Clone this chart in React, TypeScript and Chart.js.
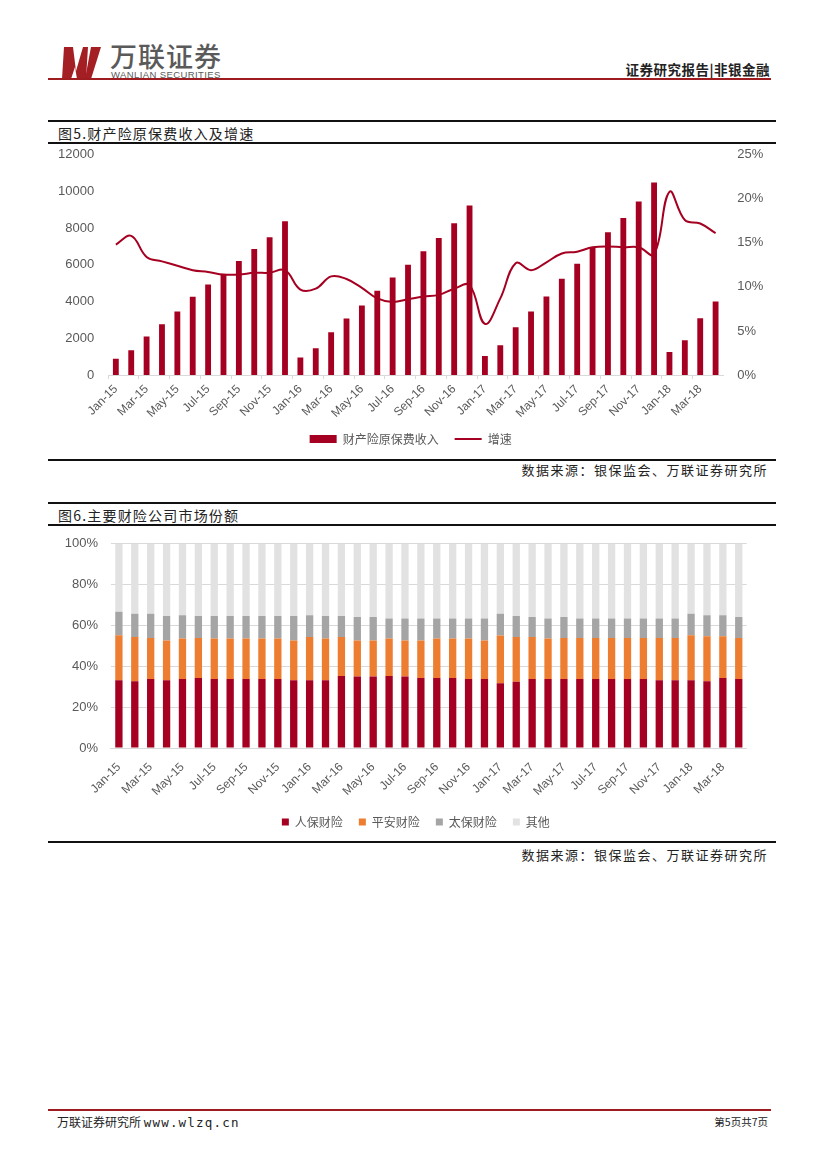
import React, { useEffect, useRef } from "react";
import { Chart, registerables } from "chart.js";

Chart.register(...registerables);

const months: string[] = [
  "Jan-15", "Feb-15", "Mar-15", "Apr-15", "May-15", "Jun-15", "Jul-15", "Aug-15", "Sep-15", "Oct-15", "Nov-15", "Dec-15",
  "Jan-16", "Feb-16", "Mar-16", "Apr-16", "May-16", "Jun-16", "Jul-16", "Aug-16", "Sep-16", "Oct-16", "Nov-16", "Dec-16",
  "Jan-17", "Feb-17", "Mar-17", "Apr-17", "May-17", "Jun-17", "Jul-17", "Aug-17", "Sep-17", "Oct-17", "Nov-17", "Dec-17",
  "Jan-18", "Feb-18", "Mar-18", "Apr-18",
];

// 财产险原保费收入 (亿元)
const premium: number[] = [
  880, 1350, 2100, 2760, 3460, 4270, 4930, 5490, 6210, 6860, 7510, 8380,
  950, 1460, 2330, 3080, 3790, 4590, 5310, 6010, 6740, 7460, 8270, 9240,
  1030, 1620, 2600, 3460, 4280, 5250, 6060, 6950, 7780, 8550, 9460, 10490,
  1250, 1890, 3090, 4000,
];

// 增速 (%)
const growth: number[] = [
  14.8, 15.8, 13.4, 12.9, 12.4, 11.9, 11.7, 11.4, 11.4, 11.6, 11.6, 11.9,
  9.7, 9.8, 11.2, 10.9, 9.9, 8.7, 8.3, 8.6, 8.9, 9.1, 9.8, 10.2,
  5.8, 8.7, 12.7, 11.9, 12.8, 13.8, 14.0, 14.5, 14.6, 14.5, 14.5, 13.7,
  20.8, 17.6, 17.2, 16.1,
];

// 市场份额 (%)
const renbao: number[] = [
  33.2, 32.7, 33.8, 33.2, 33.8, 34.3, 33.8, 33.8, 33.8, 33.8, 33.8, 33.2,
  33.2, 33.2, 35.3, 35.0, 35.0, 35.3, 35.0, 34.3, 34.3, 34.3, 33.8, 33.8,
  31.7, 32.4, 33.8, 33.8, 33.8, 33.8, 33.8, 33.8, 33.8, 33.8, 33.2, 33.2,
  33.2, 32.7, 34.3, 33.8,
];
const pingan: number[] = [
  22.0, 21.6, 20.1, 19.4, 19.8, 19.6, 19.8, 19.8, 19.8, 19.8, 19.8, 19.4,
  21.1, 20.4, 19.0, 17.6, 17.6, 18.3, 17.6, 18.3, 19.3, 19.3, 19.8, 18.8,
  23.4, 21.9, 20.5, 19.8, 20.1, 20.1, 20.1, 20.1, 20.1, 20.1, 20.7, 20.7,
  22.0, 22.0, 20.4, 20.1,
];
const taibao: number[] = [
  11.5, 11.4, 11.8, 12.0, 11.4, 10.7, 11.0, 11.0, 11.0, 11.0, 11.0, 12.0,
  10.7, 11.0, 10.3, 11.5, 11.5, 9.8, 10.8, 10.8, 9.8, 9.8, 9.8, 10.8,
  10.6, 10.3, 9.8, 9.8, 10.2, 9.5, 9.5, 9.5, 9.5, 9.5, 9.5, 9.5,
  10.5, 10.3, 10.3, 10.2,
];
const others: number[] = [
  33.3, 34.3, 34.3, 35.4, 35.0, 35.4, 35.4, 35.4, 35.4, 35.4, 35.4, 35.4,
  35.0, 35.4, 35.4, 35.9, 35.9, 36.6, 36.6, 36.6, 36.6, 36.6, 36.6, 36.6,
  34.3, 35.4, 35.9, 36.6, 35.9, 36.6, 36.6, 36.6, 36.6, 36.6, 36.6, 36.6,
  34.3, 35.0, 35.0, 35.9,
];

const leftTicks1: number[] = [0, 2000, 4000, 6000, 8000, 10000, 12000];
const rightTicks1: number[] = [0, 5, 10, 15, 20, 25];
const ticks2: number[] = [0, 20, 40, 60, 80, 100];

const RED = "#a50021";
const AXIS_FONT = "'Liberation Sans', 'Noto Sans CJK SC', sans-serif";
const CJK_FONT = "'Noto Sans CJK SC', sans-serif";
const TICK_COLOR = "#595959";

function xLabel(i: number): string {
  return i % 2 === 0 ? months[i] : "";
}

function Chart1() {
  const ref = useRef<HTMLCanvasElement>(null);
  useEffect(() => {
    const chart = new Chart(ref.current!, {
      type: "bar",
      data: {
        labels: months,
        datasets: [
          {
            type: "line",
            label: "增速",
            data: growth,
            yAxisID: "y1",
            borderColor: RED,
            backgroundColor: RED,
            borderWidth: 2,
            pointRadius: 0,
            pointStyle: "line",
            tension: 0.4,
          } as any,
          {
            type: "bar",
            label: "财产险原保费收入",
            data: premium,
            yAxisID: "y",
            backgroundColor: RED,
            borderWidth: 0,
            pointStyle: "rect",
            barPercentage: 0.38,
            categoryPercentage: 1,
          } as any,
        ],
      },
      options: {
        responsive: false,
        animation: false,
        layout: { padding: { left: 4, right: 2.7, top: 0, bottom: 6 } },
        plugins: {
          tooltip: { enabled: false },
          legend: {
            position: "bottom",
            labels: {
              usePointStyle: true,
              pointStyleWidth: 27,
              boxHeight: 8,
              padding: 16,
              color: TICK_COLOR,
              font: { size: 12, family: CJK_FONT },
              sort: (a: any, b: any) => b.datasetIndex - a.datasetIndex,
            },
          },
        },
        scales: {
          x: {
            offset: true,
            grid: {
              display: true,
              offset: true,
              drawOnChartArea: false,
              drawTicks: true,
              tickLength: 4,
              color: (ctx: any) => (ctx.index % 2 === 0 ? "#d9d9d9" : "rgba(0,0,0,0)"),
            },
            border: { color: "#d9d9d9" },
            ticks: {
              autoSkip: false,
              maxRotation: 45,
              minRotation: 45,
              padding: 3,
              color: TICK_COLOR,
              font: { size: 12, family: AXIS_FONT },
              callback: (_v: any, i: number) => xLabel(i),
            },
            afterFit: (s: any) => {
              s.height = 42;
            },
          },
          y: {
            position: "left",
            min: 0,
            max: 12000,
            afterBuildTicks: (axis: any) => {
              axis.ticks = leftTicks1.map((v) => ({ value: v }));
            },
            grid: { display: false, drawTicks: false },
            border: { display: false },
            ticks: {
              padding: 14,
              color: TICK_COLOR,
              font: { size: 13, family: AXIS_FONT },
              callback: (v: any) => String(v),
            },
          },
          y1: {
            position: "right",
            min: 0,
            max: 25,
            afterBuildTicks: (axis: any) => {
              axis.ticks = rightTicks1.map((v) => ({ value: v }));
            },
            grid: { display: false, drawTicks: false },
            border: { display: false },
            ticks: {
              padding: 14,
              color: TICK_COLOR,
              font: { size: 13, family: AXIS_FONT },
              callback: (v: any) => v + "%",
            },
          },
        },
      } as any,
    });
    return () => chart.destroy();
  }, []);
  return <canvas ref={ref} width={740} height={328} style={{ width: 740, height: 328, display: "block" }} />;
}

function Chart2() {
  const ref = useRef<HTMLCanvasElement>(null);
  useEffect(() => {
    const mk = (label: string, data: number[], color: string) => ({
      label,
      data,
      backgroundColor: color,
      borderWidth: 0,
      barPercentage: 0.46,
      categoryPercentage: 1,
    });
    const chart = new Chart(ref.current!, {
      type: "bar",
      data: {
        labels: months,
        datasets: [
          mk("人保财险", renbao, RED),
          mk("平安财险", pingan, "#ed7d31"),
          mk("太保财险", taibao, "#a5a5a5"),
          mk("其他", others, "#e2e2e2"),
        ],
      },
      options: {
        responsive: false,
        animation: false,
        layout: { padding: { left: 3.7, right: 0, top: 0, bottom: 6 } },
        plugins: {
          tooltip: { enabled: false },
          legend: {
            position: "bottom",
            labels: {
              boxWidth: 7,
              boxHeight: 7,
              padding: 16,
              color: TICK_COLOR,
              font: { size: 12, family: CJK_FONT },
            },
          },
        },
        scales: {
          x: {
            stacked: true,
            offset: true,
            grid: { display: false, drawTicks: false },
            border: { color: "#d9d9d9" },
            ticks: {
              autoSkip: false,
              maxRotation: 45,
              minRotation: 45,
              padding: 12,
              color: TICK_COLOR,
              font: { size: 12, family: AXIS_FONT },
              callback: (_v: any, i: number) => xLabel(i),
            },
            afterFit: (s: any) => {
              s.height = 52;
            },
          },
          y: {
            stacked: true,
            min: 0,
            max: 100,
            afterBuildTicks: (axis: any) => {
              axis.ticks = ticks2.map((v) => ({ value: v }));
            },
            grid: { color: "#d9d9d9", drawTicks: false },
            border: { display: false },
            ticks: {
              padding: 13,
              color: TICK_COLOR,
              font: { size: 13, family: AXIS_FONT },
              callback: (v: any) => v + "%",
            },
          },
          yR: {
            position: "right",
            display: true,
            grid: { display: false, drawTicks: false },
            border: { display: false },
            ticks: { display: false },
            afterFit: (s: any) => {
              s.width = 33.3;
            },
          },
        },
      } as any,
    });
    return () => chart.destroy();
  }, []);
  return <canvas ref={ref} width={732} height={321} style={{ width: 732, height: 321, display: "block" }} />;
}

const abs = (s: React.CSSProperties): React.CSSProperties => ({ position: "absolute", ...s });

function HLine({ top, left, width, h, color }: { top: number; left: number; width: number; h: number; color: string }) {
  return <div style={abs({ top, left, width, height: h, background: color })} />;
}

export default function App() {
  return (
    <div style={abs({ left: 0, top: 0, width: 827, height: 1169, background: "#fff", overflow: "hidden", fontFamily: CJK_FONT })}>
      {/* Header logo */}
      <svg style={abs({ left: 61, top: 47 })} width={42} height={32} viewBox="0 0 42 32">
        <polygon points="3,0 12,0 15,24 22,0 27,0 25,32 16,32 14,20 10,32 1,32" fill="#a31f24" />
        <polygon points="30,0 40,0 30,32 24,32" fill="#a31f24" />
      </svg>
      <div style={abs({ left: 110, top: 41, fontSize: 27, fontWeight: 500, color: "#5a5a5a", letterSpacing: 1, lineHeight: "30px", whiteSpace: "nowrap" })}>
        万联证券
      </div>
      <div style={abs({ left: 111, top: 70, fontSize: 9.5, color: "#5a5a5a", fontFamily: "'Liberation Sans', sans-serif", letterSpacing: 0.4, lineHeight: "9px", whiteSpace: "nowrap" })}>
        WANLIAN SECURITIES
      </div>
      <div style={abs({ right: 827 - 770, top: 61, fontSize: 13.5, fontWeight: 700, color: "#222", lineHeight: "16px", whiteSpace: "nowrap", letterSpacing: 0.5 })}>
        证券研究报告|非银金融
      </div>
      <HLine top={78} left={48} width={723} h={2} color="#9e1b20" />

      {/* Figure 5 */}
      <HLine top={120} left={48} width={728} h={2} color="#111" />
      <div style={abs({ left: 58, top: 124, fontSize: 14, color: "#222", lineHeight: "18px", letterSpacing: 1.2, whiteSpace: "nowrap" })}>
        图5.财产险原保费收入及增速
      </div>
      <HLine top={142} left={48} width={728} h={2} color="#111" />
      <HLine top={459} left={48} width={728} h={2} color="#111" />
      <div style={abs({ right: 827 - 768, top: 462, fontSize: 13, color: "#222", lineHeight: "16px", letterSpacing: 1.5, whiteSpace: "nowrap" })}>
        数据来源：银保监会、万联证券研究所
      </div>
      <div style={abs({ left: 40, top: 133, width: 740, height: 328 })}>
        <Chart1 />
      </div>

      {/* Figure 6 */}
      <HLine top={502} left={48} width={728} h={2} color="#111" />
      <div style={abs({ left: 58, top: 506, fontSize: 14, color: "#222", lineHeight: "18px", letterSpacing: 1.2, whiteSpace: "nowrap" })}>
        图6.主要财险公司市场份额
      </div>
      <HLine top={524} left={48} width={728} h={2} color="#111" />
      <HLine top={841} left={48} width={728} h={2} color="#111" />
      <div style={abs({ right: 827 - 768, top: 847, fontSize: 13, color: "#222", lineHeight: "16px", letterSpacing: 1.5, whiteSpace: "nowrap" })}>
        数据来源：银保监会、万联证券研究所
      </div>
      <div style={abs({ left: 48, top: 523, width: 732, height: 321 })}>
        <Chart2 />
      </div>

      {/* Footer */}
      <HLine top={1109} left={48} width={723} h={2} color="#9e1b20" />
      <div style={abs({ left: 57, top: 1114, fontSize: 12, color: "#222", lineHeight: "16px", whiteSpace: "nowrap" })}>
        万联证券研究所{" "}
        <span style={{ fontFamily: "'DejaVu Sans Mono', monospace", fontSize: 12.5, letterSpacing: 1.2 }}>www.wlzq.cn</span>
      </div>
      <div style={abs({ right: 827 - 768, top: 1115, fontSize: 10.5, color: "#222", lineHeight: "14px", whiteSpace: "nowrap" })}>
        第5页共7页
      </div>
    </div>
  );
}
